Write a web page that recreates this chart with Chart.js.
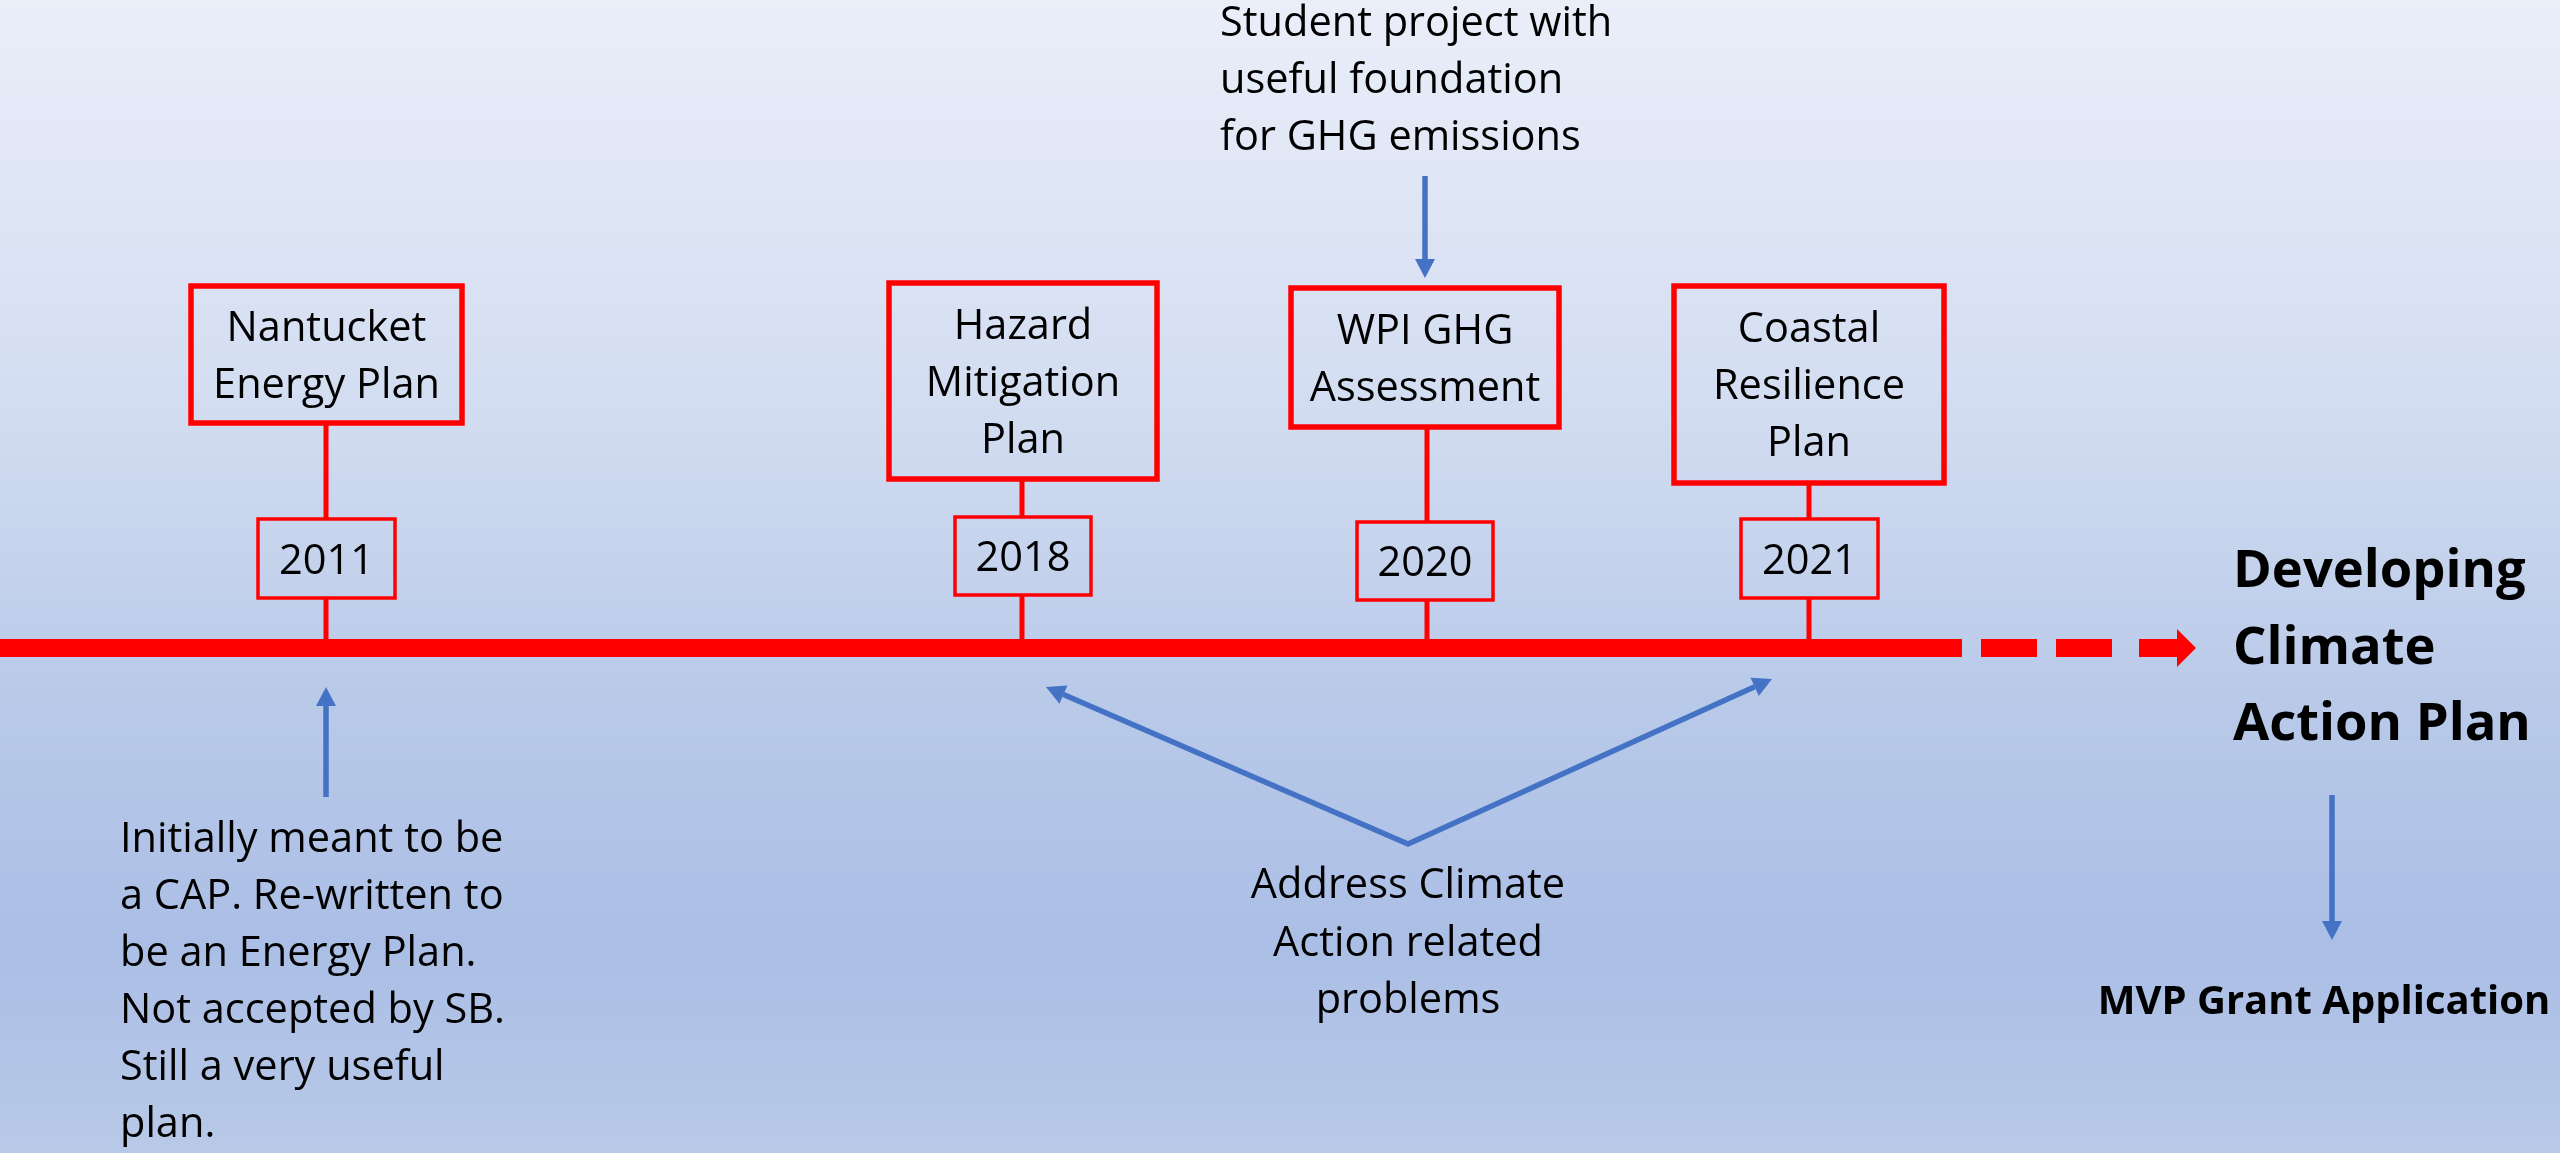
<!DOCTYPE html>
<html>
<head>
<meta charset="utf-8">
<title>Climate action planning timeline</title>
<script src="https://cdn.jsdelivr.net/npm/chart.js@4.4.1/dist/chart.umd.min.js"></script>
<style>
  html, body { margin: 0; padding: 0; overflow: hidden; background: #c6d4ee; }
  canvas { display: block; }
</style>
</head>
<body>
<canvas id="timelineChart" width="2560" height="1153"></canvas>
<script>
// ===================================================================
// DATA - milestones, labels and notes
// ===================================================================
const years = ['2011', '2018', '2020', '2021'];
const planTitles = [
    ['Nantucket', 'Energy Plan'],
    ['Hazard', 'Mitigation', 'Plan'],
    ['WPI GHG', 'Assessment'],
    ['Coastal', 'Resilience', 'Plan']
];
const goalLines = ['Developing', 'Climate', 'Action Plan'];
const nextStep = 'MVP Grant Application';
const energyPlanNote = [
    'Initially meant to be',
    'a CAP. Re-written to',
    'be an Energy Plan.',
    'Not accepted by SB.',
    'Still a very useful',
    'plan.'
];
const studentNote = ['Student project with', 'useful foundation', 'for GHG emissions'];
const addressNote = ['Address Climate', 'Action related', 'problems'];

// ===================================================================
// LAYOUT - scales run 0..2560 (x) and 0..1153 (y, downwards)
// ===================================================================
const timelineY = 648;
const solidEndX = 1962;
const eventX = [326, 1022, 1427, 1809];
// [left, top, right, bottom]
const planBoxes = [[191, 286, 462, 423], [889, 283, 1157, 479], [1291, 288, 1559, 427], [1674, 286, 1944, 483]];
const yearBoxes = [[258, 519, 395, 598], [955, 517, 1091, 595], [1357, 522, 1493, 600], [1741, 519, 1878, 598]];

const RED = '#ff0000';
const BLUE = '#4472c4';
const FONT = "'Open Sans', Lato, sans-serif";

// blue arrows: [fromX, fromY, toX, toY]
const blueArrows = [
    [326, 797, 326, 687],     // note -> 2011
    [1425, 176, 1425, 278],   // student note -> WPI
    [2332, 795, 2332, 940],   // CAP -> MVP
    [1408, 844, 1046, 687],   // V left
    [1408, 844, 1772, 679]    // V right
];
const HEAD_LEN = 19, HEAD_HALF = 10;

function arrowBase(a) {
    const ang = Math.atan2(a[3] - a[1], a[2] - a[0]);
    return { x: a[2] - HEAD_LEN * Math.cos(ang), y: a[3] - HEAD_LEN * Math.sin(ang) };
}

// ===================================================================
// DATASETS - red timeline, stems and blue arrow shafts
// ===================================================================
function lineSet(points, color, width, dash) {
    return {
        data: points,
        borderColor: color,
        borderWidth: width,
        borderDash: dash || [],
        borderCapStyle: 'butt',
        borderJoinStyle: 'miter',
        pointRadius: 0,
        fill: false,
        tension: 0
    };
}

const datasets = [];
datasets.push(lineSet([{ x: 0, y: timelineY }, { x: solidEndX, y: timelineY }], RED, 18));
datasets.push(lineSet([{ x: 1981, y: timelineY }, { x: 2120, y: timelineY }], RED, 18, [56, 19]));
datasets.push(lineSet([{ x: 2139, y: timelineY }, { x: 2178, y: timelineY }], RED, 18));

eventX.forEach(function(x, i) {
    datasets.push(lineSet([{ x: x, y: planBoxes[i][3] }, { x: x, y: yearBoxes[i][1] }], RED, 5));
    datasets.push(lineSet([{ x: x, y: yearBoxes[i][3] }, { x: x, y: timelineY }], RED, 5));
});

blueArrows.slice(0, 3).forEach(function(a) {
    const b = arrowBase(a);
    datasets.push(lineSet([{ x: a[0], y: a[1] }, { x: b.x, y: b.y }], BLUE, 5.5));
});
// the V shape is one polyline
const vl = arrowBase(blueArrows[3]);
const vr = arrowBase(blueArrows[4]);
datasets.push(lineSet([{ x: vl.x, y: vl.y }, { x: blueArrows[3][0], y: blueArrows[3][1] }, { x: vr.x, y: vr.y }], BLUE, 5.5));

// ===================================================================
// PLUGINS - background, boxes, arrow heads and text
// ===================================================================
const backgroundPlugin = {
    id: 'slideBackground',
    beforeDraw: function(chart) {
        const ctx = chart.ctx;
        const a = chart.chartArea;
        const g = ctx.createLinearGradient(0, a.top, 0, a.bottom);
        g.addColorStop(0, '#eaeef9');
        g.addColorStop(0.35, '#d3ddf1');
        g.addColorStop(0.6, '#b9cae9');
        g.addColorStop(0.82, '#abbee5');
        g.addColorStop(1, '#b8c9e8');
        ctx.save();
        ctx.fillStyle = g;
        ctx.fillRect(a.left, a.top, a.right - a.left, a.bottom - a.top);
        ctx.restore();
    }
};

const annotationPlugin = {
    id: 'timelineAnnotations',
    afterDatasetsDraw: function(chart) {
        const ctx = chart.ctx;
        const sx = chart.scales.x, sy = chart.scales.y;
        const px = function(v) { return sx.getPixelForValue(v); };
        const py = function(v) { return sy.getPixelForValue(v); };

        ctx.save();
        ctx.lineJoin = 'miter';

        // boxes
        function box(b, w) {
            ctx.strokeStyle = RED;
            ctx.lineWidth = w;
            ctx.strokeRect(px(b[0]), py(b[1]), px(b[2]) - px(b[0]), py(b[3]) - py(b[1]));
        }
        planBoxes.forEach(function(b) { box(b, 5.5); });
        yearBoxes.forEach(function(b) { box(b, 3.5); });

        // red arrow head at the end of the timeline
        ctx.fillStyle = RED;
        ctx.beginPath();
        ctx.moveTo(px(2177), py(timelineY - 19));
        ctx.lineTo(px(2196), py(timelineY));
        ctx.lineTo(px(2177), py(timelineY + 19));
        ctx.closePath();
        ctx.fill();

        // blue arrow heads
        ctx.fillStyle = BLUE;
        blueArrows.forEach(function(a) {
            const ang = Math.atan2(a[3] - a[1], a[2] - a[0]);
            const b = arrowBase(a);
            ctx.beginPath();
            ctx.moveTo(px(a[2]), py(a[3]));
            ctx.lineTo(px(b.x + HEAD_HALF * Math.sin(ang)), py(b.y - HEAD_HALF * Math.cos(ang)));
            ctx.lineTo(px(b.x - HEAD_HALF * Math.sin(ang)), py(b.y + HEAD_HALF * Math.cos(ang)));
            ctx.closePath();
            ctx.fill();
        });

        // text
        ctx.fillStyle = '#000000';
        ctx.textBaseline = 'alphabetic';

        function lines(list, x, firstBaseline, step, align, font) {
            ctx.font = font;
            ctx.textAlign = align;
            list.forEach(function(t, i) { ctx.fillText(t, px(x), py(firstBaseline + i * step)); });
        }

        const regular = '41.5px ' + FONT;
        planTitles.forEach(function(title, i) {
            const b = planBoxes[i];
            const cy = (b[1] + b[3]) / 2;
            lines(title, (b[0] + b[2]) / 2, cy - (title.length - 1) * 28.5 + 14.5, 57, 'center', regular);
        });
        years.forEach(function(y, i) {
            const b = yearBoxes[i];
            lines([y], (b[0] + b[2]) / 2, (b[1] + b[3]) / 2 + 15, 57, 'center', regular);
        });

        lines(studentNote, 1220, 36, 57, 'left', regular);
        lines(energyPlanNote, 120, 852, 57, 'left', regular);
        lines(addressNote, 1408, 898, 57.5, 'center', regular);

        lines(goalLines, 2233, 587, 76.5, 'left', 'bold 52.5px ' + FONT);
        lines([nextStep], 2324, 1014, 0, 'center', 'bold 40px ' + FONT);

        ctx.restore();
    }
};

// ===================================================================
// CHART
// ===================================================================
new Chart(document.getElementById('timelineChart').getContext('2d'), {
    type: 'line',
    data: { datasets: datasets },
    options: {
        responsive: false,
        animation: false,
        devicePixelRatio: 1,
        layout: { padding: 0 },
        plugins: {
            legend: { display: false },
            tooltip: { enabled: false }
        },
        scales: {
            x: { type: 'linear', min: 0, max: 2560, display: false },
            y: { type: 'linear', min: 0, max: 1153, reverse: true, display: false }
        }
    },
    plugins: [backgroundPlugin, annotationPlugin]
});
</script>
</body>
</html>
